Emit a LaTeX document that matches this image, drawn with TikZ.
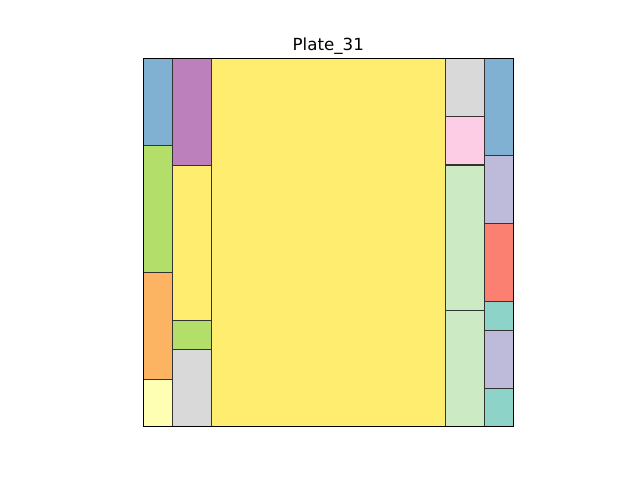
\documentclass[tikz,border=0pt]{standalone}
\usepackage{fontspec}
\setmainfont{DejaVu Sans}
\definecolor{cblue}{HTML}{80B1D3}
\definecolor{cgreen}{HTML}{B3DE69}
\definecolor{corange}{HTML}{FDB462}
\definecolor{cly}{HTML}{FFFFB3}
\definecolor{cpurple}{HTML}{BC80BD}
\definecolor{cyellow}{HTML}{FFED6F}
\definecolor{cgrey}{HTML}{D9D9D9}
\definecolor{cpink}{HTML}{FCCDE5}
\definecolor{clg}{HTML}{CCEBC5}
\definecolor{clav}{HTML}{BEBADA}
\definecolor{csalmon}{HTML}{FB8072}
\definecolor{cteal}{HTML}{8DD3C7}
\definecolor{edge}{HTML}{333333}
\tikzset{cell/.style={draw=edge, line width=1.3pt}}
\begin{document}
\begin{tikzpicture}[x=1pt,y=-1pt]
\useasboundingbox (0,0) rectangle (640,480);
% column 1
\filldraw[cell, fill=cblue] (143.3,58.7) rectangle (172.3,145.3);
\filldraw[cell, fill=cgreen] (143.3,145.3) rectangle (172.3,272.3);
\filldraw[cell, fill=corange] (143.3,272.3) rectangle (172.3,379.3);
\filldraw[cell, fill=cly] (143.3,379.3) rectangle (172.3,426.7);
% column 2
\filldraw[cell, fill=cpurple] (172.3,58.7) rectangle (211.7,165.3);
\filldraw[cell, fill=cyellow] (172.3,165.3) rectangle (211.7,320.3);
\filldraw[cell, fill=cgreen] (172.3,320.3) rectangle (211.7,349.3);
\filldraw[cell, fill=cgrey] (172.3,349.3) rectangle (211.7,426.7);
% column 3
\filldraw[cell, fill=cyellow] (211.7,58.7) rectangle (445.3,426.7);
% column 4
\filldraw[cell, fill=cgrey] (445.3,58.7) rectangle (484.3,116.7);
\filldraw[cell, fill=cpink] (445.3,116.7) rectangle (484.3,165.0);
\filldraw[cell, fill=clg] (445.3,165.0) rectangle (484.3,310.3);
\filldraw[cell, fill=clg] (445.3,310.3) rectangle (484.3,426.7);
% column 5
\filldraw[cell, fill=cblue] (484.3,58.7) rectangle (513.3,155.7);
\filldraw[cell, fill=clav] (484.3,155.7) rectangle (513.3,223.3);
\filldraw[cell, fill=csalmon] (484.3,223.3) rectangle (513.3,301.3);
\filldraw[cell, fill=cteal] (484.3,301.3) rectangle (513.3,330.3);
\filldraw[cell, fill=clav] (484.3,330.3) rectangle (513.3,388.3);
\filldraw[cell, fill=cteal] (484.3,388.3) rectangle (513.3,426.7);
% axes frame
\node[draw=black, line width=1.1pt, minimum width=370pt, minimum height=368pt, inner sep=0pt] (frame) at (328.3,242.7) {};
\node[anchor=base, inner sep=0pt, font=\fontsize{16.67}{20}\selectfont] (title) at (328.3,50.5) {Plate\_31};
\end{tikzpicture}
\end{document}
